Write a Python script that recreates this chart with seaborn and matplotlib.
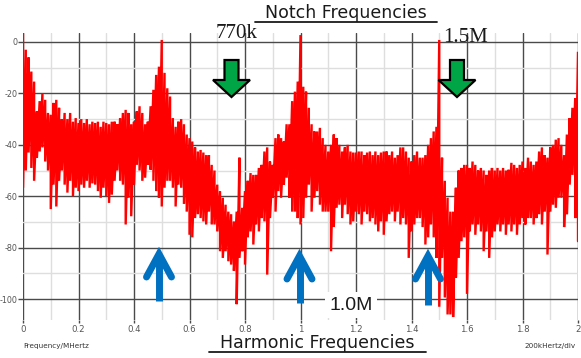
import numpy as np
import pandas as pd
import matplotlib
matplotlib.use("Agg")
import matplotlib.pyplot as plt
from matplotlib.lines import Line2D
from matplotlib.patches import Polygon
from matplotlib.ticker import MultipleLocator
import seaborn as sns

# ---- data (frequency in MHz, level in dB) ----
freq_mhz = np.arange(201) / 100.0

upper_db = [
    3.5, -3, -6, -11.5, -15.4, -27, -23, -20, -22.5, -27.6,
    -28.3, -23.7, -22.5, -25.6, -30, -27.6, -30, -27.6, -31, -29.6,
    -31.5, -30, -31.5, -30, -32, -31, -31.5, -31, -33, -31,
    -31.5, -32, -31, -31, -32, -29.6, -27.6, -26.4, -27.6, -32,
    -31, -27, -25, -27.6, -32, -31, -25, -18.6, -12.8, -9.6,
    0.8, -12, -18, -21.2, -29.6, -33, -31, -30, -32, -36,
    -37.4, -38.7, -41, -42.6, -42, -43, -44, -44, -47.8, -50,
    -55.5, -58, -60.6, -63.3, -66, -67, -69.8, -66, -45, -64.5,
    -58, -54, -51, -51.7, -51.7, -49, -47.8, -42.6, -41, -46.5,
    -47.8, -37.4, -36, -37.4, -38.7, -32, -32, -23, -19.3, -15.4,
    2.7, -17.4, -19.3, -25.6, -32, -34.8, -34.8, -33.4, -37.4, -40,
    -42.6, -40, -36, -37.4, -40, -42.6, -41, -40, -42.6, -43,
    -43, -42.6, -42.6, -44, -43, -42.6, -44, -42.6, -44, -43,
    -42.6, -42.6, -44, -42.6, -45, -44, -41, -41, -42.6, -45,
    -46.5, -44, -42.6, -45, -45, -44, -40, -37.4, -34.8, -33,
    0.8, -45, -54, -60.6, -66, -66, -56.7, -50, -49, -47.8,
    -47.8, -49, -46.5, -47.8, -50, -49, -50, -51.7, -50, -49,
    -50, -49, -50, -49, -50, -49.7, -47, -47.8, -49, -47.8,
    -46.5, -49, -45, -46.5, -47.8, -46.5, -42.6, -41, -44, -45,
    -41, -40, -38, -37.4, -40, -44, -36, -29.6, -25.6, -21.8,
    -3.8,
]

lower_db = [
    -56.7, -50, -43, -49, -54, -45, -42.6, -41, -46.5, -50,
    -65, -55.5, -64, -54, -50, -55.5, -58.6, -54, -60, -56.7,
    -58, -55.5, -56.7, -54, -56.7, -55, -55.5, -58, -60.6, -56.7,
    -60, -62.6, -59.4, -54, -50, -54, -55.5, -71, -60.6, -67.8,
    -55.5, -47.8, -50, -54, -52.8, -47.8, -49.7, -54, -58, -60.6,
    -64, -56.7, -54, -54, -56.7, -64, -55.5, -56.7, -63, -66,
    -75, -76, -68.5, -67, -68.5, -69.8, -71, -66, -71, -71,
    -73.7, -81.4, -84, -81.4, -85.3, -86.6, -89, -102, -84, -81.4,
    -86.6, -76, -73.7, -78.8, -71, -73.7, -68.5, -69.8, -90.5, -68.5,
    -60.6, -66, -58, -60.6, -55.5, -52.8, -60.6, -66, -66, -68.5,
    -71, -68.5, -60.6, -55.5, -66, -60.6, -58, -63.3, -66, -66,
    -66, -81.4, -72, -64.5, -63.3, -68.5, -63.3, -67, -71, -69.8,
    -66, -67, -71, -66, -67, -69.8, -68.5, -71, -73.7, -69.8,
    -75, -69.8, -67, -66, -69.8, -66, -71, -68.5, -71, -84,
    -73.7, -71, -68.5, -68.5, -72, -78.8, -76, -71, -76, -84,
    -103, -84, -99.4, -106, -106, -107, -91.7, -84, -77.5, -76,
    -98, -73.7, -71, -75, -71, -73.7, -81.4, -73.7, -84, -76,
    -73.7, -71, -73.7, -71, -75, -71, -73.7, -71, -75, -71,
    -68.5, -71, -68.5, -68.5, -71, -68.5, -67, -71, -66, -82.7,
    -66, -63.3, -64.5, -60.6, -60.6, -72, -67, -55.5, -51.7, -68.5,
    -77.5,
]

y_ticks = [0, -20, -40, -60, -80, -100]
x_ticks = [0, 0.2, 0.4, 0.6, 0.8, 1, 1.2, 1.4, 1.6, 1.8, 2]
x_tick_labels = ["0", "0.2", "0.4", "0.6", "0.8", "1", "1.2", "1.4", "1.6", "1.8", "2"]

# long-form trace: each frequency bin drawn from its peak to its trough
trace = pd.DataFrame({
    "freq": np.repeat(freq_mhz, 2),
    "level": np.ravel(np.column_stack([upper_db, lower_db])),
})

# ---- figure ----
sns.set_style("white")
plt.rcParams["font.family"] = ["DejaVu Sans"]
plt.rcParams["axes.unicode_minus"] = False

W, H = 581, 358
fig = plt.figure(figsize=(W / 100, H / 100), dpi=100)
ax_left, ax_right, ax_top, ax_bot = 23, 578, 33, 319.6
ax = fig.add_axes([ax_left / W, 1 - ax_bot / H, (ax_right - ax_left) / W, (ax_bot - ax_top) / H])

sns.lineplot(data=trace, x="freq", y="level", sort=False, estimator=None,
             color="#ff0000", lw=1.7, ax=ax, zorder=3)
ax.lines[-1].set_solid_joinstyle("miter")

ax.set_xlim(0, 2)
ax.set_ylim(-108, 3.5)
ax.set_xticks(x_ticks)
ax.set_xticklabels(x_tick_labels)
ax.set_yticks(y_ticks)
ax.xaxis.set_minor_locator(MultipleLocator(0.1))
ax.yaxis.set_minor_locator(MultipleLocator(10))
ax.grid(which="major", color="#4a4a4a", lw=1.0, zorder=1)
ax.grid(which="minor", color="#dedede", lw=1.0, zorder=0)
ax.set_axisbelow(True)
for s in ax.spines.values():
    s.set_visible(False)
ax.tick_params(axis="y", which="major", length=3.5, width=1.0, color="#4a4a4a",
               labelsize=5.8, labelcolor="#555555", pad=0.3, left=True)
ax.tick_params(axis="x", which="major", length=2, width=1.0, color="#4a4a4a",
               labelsize=6.2, labelcolor="#555555", pad=2, bottom=True)
ax.tick_params(which="minor", length=0)
ax.set_xlabel("")
ax.set_ylabel("")


def fp(x, y):
    return (x / W, 1 - y / H)


# titles with underline
def underlined(text, cx, cy, uy, x0, x1, size):
    fig.text(*fp(cx, cy), text, ha="center", va="center", fontsize=size,
             color="#1a1a1a", family="DejaVu Sans")
    fig.add_artist(Line2D([x0 / W, x1 / W], [1 - uy / H, 1 - uy / H],
                          transform=fig.transFigure, color="#1a1a1a", lw=1.3))


underlined("Notch Frequencies", 346, 12.5, 22, 255, 437, 12.5)
underlined("Harmonic Frequencies", 317, 343, 352, 209, 426, 12.5)

fig.text(*fp(237, 33), "770k", ha="center", va="center", fontsize=15,
         family="Liberation Serif", color="#1a1a1a")
fig.text(*fp(466, 37), "1.5M", ha="center", va="center", fontsize=15,
         family="Liberation Serif", color="#1a1a1a")
fig.text(*fp(351, 305), "1.0M", ha="center", va="center", fontsize=14,
         family="Liberation Sans", color="#1a1a1a",
         bbox=dict(facecolor="white", edgecolor="none", pad=3))
fig.text(*fp(23, 346), "Frequency/MHertz", ha="left", va="center", fontsize=5.2,
         color="#333333")
fig.text(*fp(576, 346), "200kHertz/div", ha="right", va="center", fontsize=5.2,
         color="#333333")

# green notch arrows (pointing down)
for cx in (231.5, 457):
    pts = [(cx - 7, 60), (cx + 7, 60), (cx + 7, 80), (cx + 18.5, 80), (cx, 97),
           (cx - 18.5, 80), (cx - 7, 80)]
    fig.add_artist(Polygon([fp(x, y) for x, y in pts], closed=True,
                           transform=fig.transFigure, facecolor="#00a646",
                           edgecolor="#000000", lw=1.6, zorder=5))

# blue harmonic arrows (pointing up)
for cx, tip, bot in ((159, 253, 301), (299.5, 255, 303), (428, 255, 305)):
    fig.add_artist(Line2D([cx / W, cx / W], [1 - bot / H, 1 - (tip + 3) / H],
                          transform=fig.transFigure, color="#0070c0", lw=5,
                          solid_capstyle="butt", zorder=5))
    xs, ys = zip(fp(cx - 12.5, tip + 24), fp(cx, tip + 1), fp(cx + 12.5, tip + 24))
    fig.add_artist(Line2D(xs, ys, transform=fig.transFigure, color="#0070c0",
                          lw=5, solid_capstyle="round", solid_joinstyle="miter",
                          zorder=5))

fig.savefig("out.png", dpi=100)
